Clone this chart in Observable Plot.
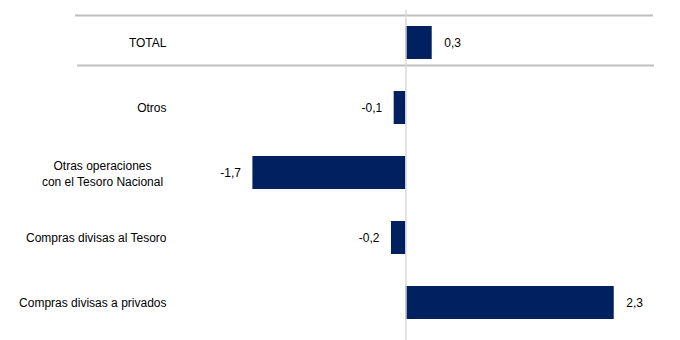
<!DOCTYPE html>
<html>
<head>
<meta charset="utf-8">
<script src="https://cdn.jsdelivr.net/npm/d3@7"></script>
<script src="https://cdn.jsdelivr.net/npm/@observablehq/plot@0.6"></script>
<style>
  html, body { margin: 0; padding: 0; background: #fff; }
</style>
</head>
<body>
<div id="chart"></div>
<script>
const categories = [
  "TOTAL",
  "Otros",
  "Otras operaciones\ncon el Tesoro Nacional",
  "Compras divisas al Tesoro",
  "Compras divisas a privados"
];
const values = [0.29, -0.13, -1.69, -0.16, 2.3];

const data = categories.map((c, i) => ({category: c, value: values[i]}));
const fmt = v => d3.format(".1f")(v).replace(".", ",").replace("−", "-");
const single = data.filter(d => !d.category.includes("\n"));
const multi = data.filter(d => d.category.includes("\n"));
const font = "Liberation Sans, Arial, sans-serif";

const chart = Plot.plot({
  width: 680,
  height: 340,
  marginLeft: 170,
  marginRight: 21,
  marginTop: 10,
  marginBottom: 5,
  style: {fontFamily: font, fontSize: "12px", color: "#000", background: "#fff"},
  x: {domain: [-2.6, 2.8], axis: null},
  y: {domain: categories, paddingInner: 0.5, paddingOuter: 0.25, axis: null},
  marks: [
    Plot.ruleY(["TOTAL"], {y: d => d, dy: -27.5, stroke: "#bfbfbf", strokeWidth: 2, insetLeft: -95, insetRight: 6}),
    Plot.ruleY(["TOTAL"], {y: d => d, dy: 22.5, stroke: "#bfbfbf", strokeWidth: 2, insetLeft: -93, insetRight: 5}),
    Plot.barX(data, {x: "value", y: "category", fill: "#00205f"}),
    Plot.ruleX([0], {stroke: "#d9d9d9", strokeWidth: 1.5, insetBottom: -5}),
    Plot.text(data.filter(d => d.value >= 0), {x: "value", y: "category", text: d => fmt(d.value), textAnchor: "start", dx: 12, fill: "#000", fontSize: 12}),
    Plot.text(data.filter(d => d.value < 0), {x: "value", y: "category", text: d => fmt(d.value), textAnchor: "end", dx: -12, fill: "#000", fontSize: 12}),
    Plot.text(single, {y: "category", text: "category", frameAnchor: "left", textAnchor: "end", dx: -4, fill: "#000", fontSize: 12}),
    Plot.text(multi, {y: "category", text: "category", frameAnchor: "left", textAnchor: "middle", dx: -68, lineHeight: 1.3, fill: "#000", fontSize: 12})
  ]
});
document.getElementById("chart").appendChild(chart);
</script>
</body>
</html>
